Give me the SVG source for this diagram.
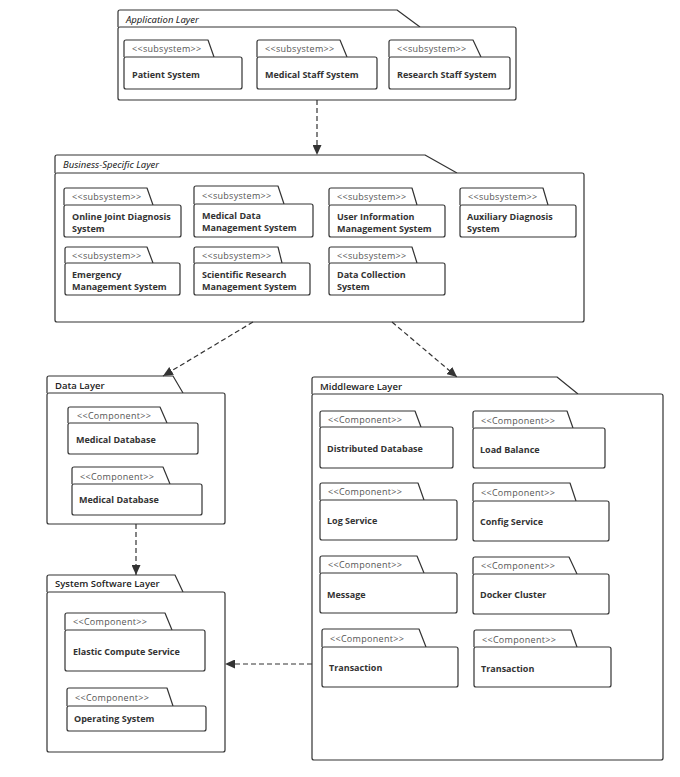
<svg xmlns="http://www.w3.org/2000/svg" width="680" height="777" viewBox="0 0 680 777">
<style>
.pk{fill:#fff;stroke:#333;stroke-width:1.2;stroke-linejoin:round}
.ttl{font-family:"Open Sans","Noto Sans",sans-serif;font-size:9.5px;fill:#222;font-weight:600}
.it{font-style:italic;font-weight:400;font-family:"Noto Sans","Open Sans",sans-serif}
.st{font-family:"Open Sans","Noto Sans",sans-serif;font-size:9px;fill:#555;letter-spacing:0.3px}
.nm{font-family:"Open Sans","Noto Sans",sans-serif;font-size:9px;fill:#333;font-weight:700}
.cn{fill:none;stroke:#333;stroke-width:1.2;stroke-dasharray:5,3}
</style>
<defs>
<marker id="ah" markerWidth="11" markerHeight="9" refX="10" refY="4.5" orient="auto" markerUnits="userSpaceOnUse">
<path d="M0,0 L10,4.5 L0,9 z" fill="#333"/>
</marker>
</defs>
<rect width="680" height="777" fill="#fff"/>

<g id="application-layer">
<path class="pk" d="M118,27 V12 Q118,10 120,10 H397 L420,27"/>
<rect class="pk" x="118" y="27" width="398" height="73" rx="2"/>
<text class="ttl it" x="126" y="23">Application Layer</text>
</g>
<g id="patient-system">
<path class="pk" d="M124,57 V42 Q124,40 126,40 H208 L214,57"/>
<rect class="pk" x="124" y="57" width="118" height="32" rx="2"/>
<text class="st" x="132" y="52">&lt;&lt;subsystem&gt;&gt;</text>
<text class="nm" x="132" y="78">Patient System</text>
</g>
<g id="medical-staff-system">
<path class="pk" d="M257,57 V42 Q257,40 259,40 H340 L347,57"/>
<rect class="pk" x="257" y="57" width="120" height="32" rx="2"/>
<text class="st" x="265" y="52">&lt;&lt;subsystem&gt;&gt;</text>
<text class="nm" x="265" y="78">Medical Staff System</text>
</g>
<g id="research-staff-system">
<path class="pk" d="M389,57 V42 Q389,40 391,40 H473 L481,57"/>
<rect class="pk" x="389" y="57" width="121" height="32" rx="2"/>
<text class="st" x="397" y="52">&lt;&lt;subsystem&gt;&gt;</text>
<text class="nm" x="397" y="78">Research Staff System</text>
</g>

<g id="business-layer">
<path class="pk" d="M55,173 V157 Q55,155 57,155 H425 L457,173"/>
<rect class="pk" x="55" y="173" width="529" height="149" rx="2"/>
<text class="ttl it" x="63" y="168">Business-Specific Layer</text>
</g>
<g id="online-joint-diagnosis">
<path class="pk" d="M64,205 V190 Q64,188 66,188 H147 L153,205"/>
<rect class="pk" x="64" y="205" width="117" height="32" rx="2"/>
<text class="st" x="72" y="200">&lt;&lt;subsystem&gt;&gt;</text>
<text class="nm" x="72" y="219.5">Online Joint Diagnosis</text>
<text class="nm" x="72" y="231.5">System</text>
</g>
<g id="medical-data-management">
<path class="pk" d="M194,204 V188 Q194,186 196,186 H278 L284,204"/>
<rect class="pk" x="194" y="204" width="119" height="33" rx="2"/>
<text class="st" x="202" y="199">&lt;&lt;subsystem&gt;&gt;</text>
<text class="nm" x="202" y="218.5">Medical Data</text>
<text class="nm" x="202" y="230.5">Management System</text>
</g>
<g id="user-information-management">
<path class="pk" d="M329,205 V190 Q329,188 331,188 H412 L417,205"/>
<rect class="pk" x="329" y="205" width="116" height="32" rx="2"/>
<text class="st" x="337" y="200">&lt;&lt;subsystem&gt;&gt;</text>
<text class="nm" x="337" y="219.5">User Information</text>
<text class="nm" x="337" y="231.5">Management System</text>
</g>
<g id="auxiliary-diagnosis">
<path class="pk" d="M460,205 V190 Q460,188 462,188 H543 L548,205"/>
<rect class="pk" x="460" y="205" width="116" height="32" rx="2"/>
<text class="st" x="468" y="200">&lt;&lt;subsystem&gt;&gt;</text>
<text class="nm" x="467" y="219.5">Auxiliary Diagnosis</text>
<text class="nm" x="467" y="231.5">System</text>
</g>
<g id="emergency-management">
<path class="pk" d="M65,263 V249 Q65,247 67,247 H147 L153,263"/>
<rect class="pk" x="65" y="263" width="115" height="32" rx="2"/>
<text class="st" x="72" y="259">&lt;&lt;subsystem&gt;&gt;</text>
<text class="nm" x="72" y="277.5">Emergency</text>
<text class="nm" x="72" y="289.5">Management System</text>
</g>
<g id="scientific-research-management">
<path class="pk" d="M194,263 V249 Q194,247 196,247 H278 L282,263"/>
<rect class="pk" x="194" y="263" width="116" height="32" rx="2"/>
<text class="st" x="202" y="259">&lt;&lt;subsystem&gt;&gt;</text>
<text class="nm" x="202" y="277.5">Scientific Research</text>
<text class="nm" x="202" y="289.5">Management System</text>
</g>
<g id="data-collection">
<path class="pk" d="M329,263 V249 Q329,247 331,247 H412 L417,263"/>
<rect class="pk" x="329" y="263" width="116" height="32" rx="2"/>
<text class="st" x="337" y="259">&lt;&lt;subsystem&gt;&gt;</text>
<text class="nm" x="337" y="277.5">Data Collection</text>
<text class="nm" x="337" y="289.5">System</text>
</g>

<g id="data-layer">
<path class="pk" d="M47,393 V378 Q47,376 49,376 H173 L183,393"/>
<rect class="pk" x="47" y="393" width="178" height="131" rx="2"/>
<text class="ttl" x="55" y="389">Data Layer</text>
</g>
<g id="medical-database-1">
<path class="pk" d="M68,423 V409 Q68,407 70,407 H160 L167,423"/>
<rect class="pk" x="68" y="423" width="130" height="31" rx="2"/>
<text class="st" x="77" y="419">&lt;&lt;Component&gt;&gt;</text>
<text class="nm" x="76" y="443">Medical Database</text>
</g>
<g id="medical-database-2">
<path class="pk" d="M72,484 V469 Q72,467 74,467 H163 L170,484"/>
<rect class="pk" x="72" y="484" width="130" height="31" rx="2"/>
<text class="st" x="80" y="480">&lt;&lt;Component&gt;&gt;</text>
<text class="nm" x="79" y="503">Medical Database</text>
</g>

<g id="middleware-layer">
<path class="pk" d="M312,394 V379 Q312,377 314,377 H557 L578,394"/>
<rect class="pk" x="312" y="394" width="351" height="366" rx="2"/>
<text class="ttl" x="320" y="390">Middleware Layer</text>
</g>
<g id="distributed-database">
<path class="pk" d="M320,427 V413 Q320,411 322,411 H415 L421,427"/>
<rect class="pk" x="320" y="427" width="133" height="41" rx="2"/>
<text class="st" x="328" y="423">&lt;&lt;Component&gt;&gt;</text>
<text class="nm" x="327" y="452">Distributed Database</text>
</g>
<g id="load-balance">
<path class="pk" d="M473,428 V413 Q473,411 475,411 H567 L573,428"/>
<rect class="pk" x="473" y="428" width="132" height="40" rx="2"/>
<text class="st" x="481" y="424">&lt;&lt;Component&gt;&gt;</text>
<text class="nm" x="480" y="453">Load Balance</text>
</g>
<g id="log-service">
<path class="pk" d="M320,500 V485 Q320,483 322,483 H418 L424,500"/>
<rect class="pk" x="320" y="500" width="137" height="40" rx="2"/>
<text class="st" x="328" y="495">&lt;&lt;Component&gt;&gt;</text>
<text class="nm" x="327" y="524">Log Service</text>
</g>
<g id="config-service">
<path class="pk" d="M473,501 V485 Q473,483 475,483 H570 L576,501"/>
<rect class="pk" x="473" y="501" width="136" height="40" rx="2"/>
<text class="st" x="481" y="496">&lt;&lt;Component&gt;&gt;</text>
<text class="nm" x="480" y="525">Config Service</text>
</g>
<g id="message">
<path class="pk" d="M320,573 V558 Q320,556 322,556 H417 L424,573"/>
<rect class="pk" x="320" y="573" width="137" height="40" rx="2"/>
<text class="st" x="328" y="568">&lt;&lt;Component&gt;&gt;</text>
<text class="nm" x="327" y="598">Message</text>
</g>
<g id="docker-cluster">
<path class="pk" d="M473,574 V559 Q473,557 475,557 H569 L577,574"/>
<rect class="pk" x="473" y="574" width="136" height="40" rx="2"/>
<text class="st" x="481" y="569">&lt;&lt;Component&gt;&gt;</text>
<text class="nm" x="480" y="598">Docker Cluster</text>
</g>
<g id="transaction-1">
<path class="pk" d="M322,647 V631 Q322,629 324,629 H419 L426,647"/>
<rect class="pk" x="322" y="647" width="136" height="40" rx="2"/>
<text class="st" x="330" y="642">&lt;&lt;Component&gt;&gt;</text>
<text class="nm" x="329" y="671">Transaction</text>
</g>
<g id="transaction-2">
<path class="pk" d="M474,647 V632 Q474,630 476,630 H571 L577,647"/>
<rect class="pk" x="474" y="647" width="137" height="40" rx="2"/>
<text class="st" x="482" y="643">&lt;&lt;Component&gt;&gt;</text>
<text class="nm" x="481" y="672">Transaction</text>
</g>

<g id="system-software-layer">
<path class="pk" d="M47,592 V577 Q47,575 49,575 H175 L183,592"/>
<rect class="pk" x="47" y="592" width="178" height="160" rx="2"/>
<text class="ttl" x="55" y="587">System Software Layer</text>
</g>
<g id="elastic-compute-service">
<path class="pk" d="M65,630 V615 Q65,613 67,613 H165 L172,630"/>
<rect class="pk" x="65" y="630" width="140" height="41" rx="2"/>
<text class="st" x="73" y="625">&lt;&lt;Component&gt;&gt;</text>
<text class="nm" x="73" y="655">Elastic Compute Service</text>
</g>
<g id="operating-system">
<path class="pk" d="M67,706 V690 Q67,688 69,688 H167 L173,706"/>
<rect class="pk" x="67" y="706" width="139" height="25" rx="2"/>
<text class="st" x="75" y="701">&lt;&lt;Component&gt;&gt;</text>
<text class="nm" x="74" y="722">Operating System</text>
</g>

<g id="connectors">
<line class="cn" x1="317" y1="100" x2="317" y2="155" marker-end="url(#ah)"/>
<line class="cn" x1="253" y1="322" x2="163" y2="376" marker-end="url(#ah)"/>
<line class="cn" x1="392" y1="322" x2="457" y2="377" marker-end="url(#ah)"/>
<line class="cn" x1="136" y1="524" x2="136" y2="575" marker-end="url(#ah)"/>
<line class="cn" x1="312" y1="664" x2="225" y2="664" marker-end="url(#ah)"/>
</g>
</svg>
